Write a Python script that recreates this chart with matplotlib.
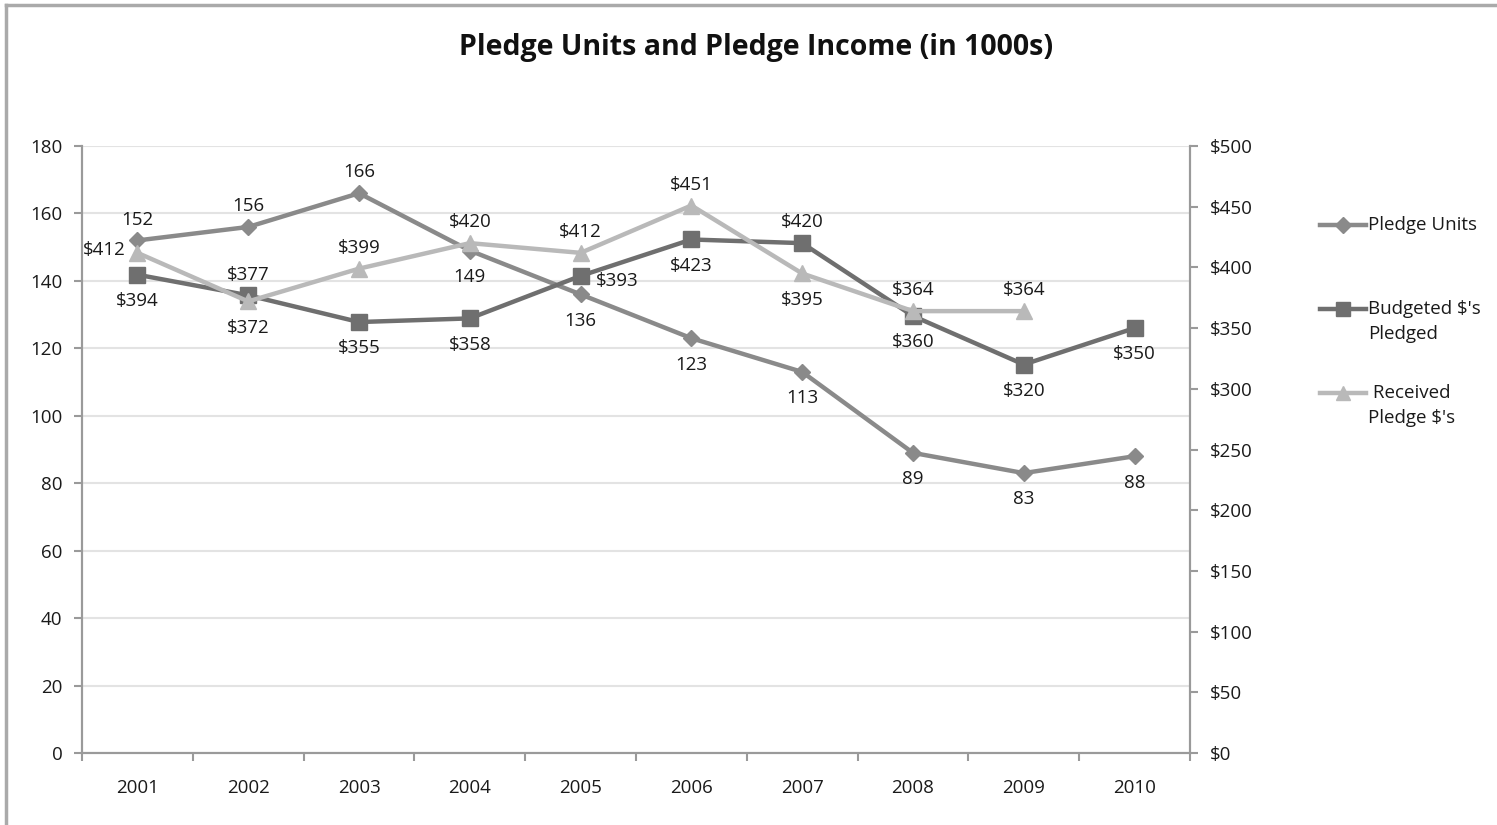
import numpy as np
import matplotlib.pyplot as plt
from matplotlib.lines import Line2D

plt.rcParams["font.family"] = ["Open Sans", "DejaVu Sans"]

years = ["2001", "2002", "2003", "2004", "2005", "2006", "2007", "2008", "2009", "2010"]
pledge_units = [152, 156, 166, 149, 136, 123, 113, 89, 83, 88]
budgeted = [394, 377, 355, 358, 393, 423, 420, 360, 320, 350]
received = [412, 372, 399, 420, 412, 451, 395, 364, 364, np.nan]

# label side for each point: "a" above, "b" below, "l" left, "r" right
units_pos = ["a", "a", "a", "b", "b", "b", "b", "b", "b", "b"]
budget_pos = ["b", "a", "b", "b", "r", "b", "a", "b", "b", "b"]
received_pos = ["l", "b", "a", "a", "a", "a", "b", "a", "a", None]

c_units = "#8a8a8a"
c_budget = "#6f6f6f"
c_received = "#b9b9b9"
grid_c = "#e3e3e3"
spine_c = "#9a9a9a"
txt_c = "#1a1a1a"
fs = 13.5

fig = plt.figure(figsize=(14.97, 8.25), dpi=100)
ax = fig.add_axes([0.0548, 0.0873, 0.7401, 0.7357])
ax2 = ax.twinx()

x = np.arange(len(years))

ax.plot(x, pledge_units, color=c_units, lw=3.2, marker="D", ms=8.5, zorder=3)
ax2.plot(x, budgeted, color=c_budget, lw=3.2, marker="s", ms=11, zorder=3)
ax2.plot(x, received, color=c_received, lw=3.2, marker="^", ms=11, zorder=4)

offsets = {"a": (0, 15), "b": (0, -19), "l": (-24, 2), "r": (26, -4)}


def put_labels(axis, vals, sides, fmt):
    for xi, v, s in zip(x, vals, sides):
        if s is None or np.isnan(v):
            continue
        axis.annotate(fmt.format(v), (xi, v), xytext=offsets[s], textcoords="offset points",
                      ha="center", va="center", fontsize=fs, color=txt_c, zorder=5)


put_labels(ax, pledge_units, units_pos, "{:.0f}")
put_labels(ax2, budgeted, budget_pos, "${:.0f}")
put_labels(ax2, received, received_pos, "${:.0f}")

# axes limits and ticks
ax.set_xlim(-0.5, len(years) - 0.5)
ax.set_ylim(0, 180)
ax.set_yticks(np.arange(0, 181, 20))
ax2.set_ylim(0, 500)
ax2.set_yticks(np.arange(0, 501, 50))
ax2.set_yticklabels([f"${v}" for v in range(0, 501, 50)])

ax.set_xticks(x)
ax.set_xticklabels(years)
ax.set_xticks(np.arange(-0.5, len(years)), minor=True)
ax.tick_params(axis="x", which="major", length=0, pad=19, labelsize=fs, labelcolor=txt_c)
ax.tick_params(axis="x", which="minor", length=6, width=1.5, color=spine_c, direction="out")
ax.tick_params(axis="y", length=6, width=1.5, color=spine_c, pad=8, labelsize=fs, labelcolor=txt_c)
ax2.tick_params(axis="y", length=6, width=1.5, color=spine_c, pad=8, labelsize=fs, labelcolor=txt_c)

ax.yaxis.grid(True, color=grid_c, lw=1.5)
ax.set_axisbelow(True)

for a in (ax, ax2):
    a.spines["top"].set_visible(False)
    for s in ("left", "right", "bottom"):
        a.spines[s].set_color(spine_c)
        a.spines[s].set_linewidth(1.5)

fig.text(0.505, 0.943, "Pledge Units and Pledge Income (in 1000s)", ha="center", va="center",
         fontsize=20.5, fontweight="bold", color="#111111")

# legend on the right, handle lined up with the first line of each label
W, H = 1497, 825
legend_items = [
    (c_units, "D", 8, 225, "Pledge Units"),
    (c_budget, "s", 10, 309, "Budgeted $'s\nPledged"),
    (c_received, "^", 10, 393, " Received\nPledge $'s"),
]
for col, mk, ms, ypx, lab in legend_items:
    yf = 1 - ypx / H
    fig.add_artist(Line2D([1320 / W, 1366 / W], [yf, yf], color=col, lw=3.2))
    fig.add_artist(Line2D([1343 / W], [yf], color=col, marker=mk, ms=ms, lw=0))
    fig.text(1368 / W, yf + 9 / H, lab, ha="left", va="top", fontsize=fs,
             color=txt_c, linespacing=1.5)

# outer chart frame (left and top edges)
fig.add_artist(Line2D([0.004, 0.004], [0.0, 0.994], color="#aaaaaa", lw=2.5))
fig.add_artist(Line2D([0.004, 1.0], [0.994, 0.994], color="#aaaaaa", lw=2.5))

fig.savefig("out.png", dpi=100)
